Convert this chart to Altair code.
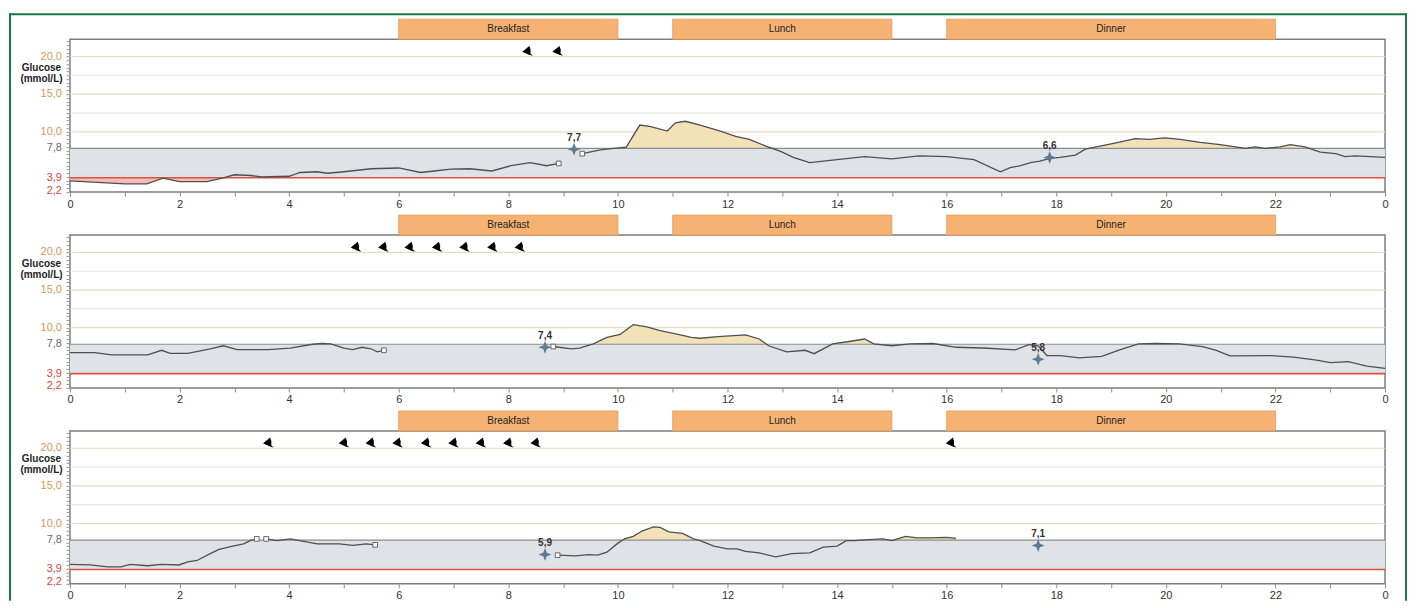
import altair as alt
import pandas as pd

# ---------------- data ----------------
MEAL_NAMES = ["Breakfast", "Lunch", "Dinner"]
MEAL_START = [6, 11, 16]
MEAL_END = [10, 15, 22]

Y_LABEL_VALUES = [20.0, 15.0, 10.0, 7.8, 3.9, 2.2]
Y_LABEL_TEXT = ["20,0", "15,0", "10,0", "7,8", "3,9", "2,2"]
GRID_MAJOR = [10.0, 15.0, 20.0]
GRID_MINOR = [5.0, 12.5, 17.5]
TARGET_LOW = 3.9
TARGET_HIGH = 7.8
INSULIN_LEVEL = 20.75

# Day 1
D1_S1_T = [0.0, 0.5, 1.0, 1.4, 1.7, 2.0, 2.5, 2.8, 3.0, 3.3, 3.5, 4.0, 4.2, 4.5, 4.7, 5.0, 5.5, 6.0,
           6.4, 6.65, 6.95, 7.3, 7.7, 8.05, 8.4, 8.7, 8.92]
D1_S1_G = [3.5, 3.3, 3.1, 3.1, 3.85, 3.4, 3.4, 3.9, 4.3, 4.2, 4.0, 4.1, 4.6, 4.7, 4.5, 4.7, 5.1, 5.2,
           4.6, 4.8, 5.05, 5.1, 4.8, 5.5, 5.9, 5.5, 5.8]
D1_S2_T = [9.35, 9.68, 10.05, 10.15, 10.4, 10.6, 10.9, 11.05, 11.23, 11.5, 11.87, 12.15, 12.4, 12.7,
           12.97, 13.2, 13.5, 14.0, 14.5, 15.0, 15.5, 16.0, 16.5, 16.98, 17.16, 17.35, 17.53, 17.7,
           17.9, 18.07, 18.35, 18.53, 18.8, 19.07, 19.44, 19.7, 19.98, 20.26, 20.63, 20.99, 21.27,
           21.45, 21.63, 21.81, 22.09, 22.27, 22.54, 22.82, 23.1, 23.27, 23.45, 23.73, 24.0]
D1_S2_G = [7.1, 7.6, 7.9, 7.95, 10.9, 10.7, 10.1, 11.2, 11.4, 10.9, 10.1, 9.4, 9.0, 8.1,
           7.4, 6.6, 5.9, 6.3, 6.7, 6.4, 6.8, 6.7, 6.3, 4.7, 5.25, 5.5, 5.9, 6.1,
           6.5, 6.6, 6.9, 7.7, 8.1, 8.5, 9.1, 9.0, 9.2, 9.0, 8.6, 8.3, 8.0,
           7.8, 8.0, 7.8, 8.0, 8.3, 8.0, 7.3, 7.1, 6.7, 6.8, 6.7, 6.6]
D1_METER_T = [9.2, 17.88]
D1_METER_G = [7.7, 6.6]
D1_INSULIN_T = [8.35, 8.9]
D1_GAP_T = [8.92, 9.35]
D1_GAP_G = [5.8, 7.1]

# Day 2
D2_S1_T = [0.0, 0.45, 0.77, 1.42, 1.67, 1.83, 2.15, 2.56, 2.8, 3.05, 3.62, 4.02, 4.43, 4.6, 4.76,
           5.0, 5.16, 5.33, 5.49, 5.61, 5.73]
D2_S1_G = [6.7, 6.7, 6.4, 6.4, 7.0, 6.6, 6.6, 7.2, 7.6, 7.1, 7.1, 7.3, 7.8, 7.9, 7.85,
           7.3, 7.1, 7.4, 7.2, 6.8, 7.0]
D2_S2_T = [8.82, 9.15, 9.3, 9.55, 9.8, 10.04, 10.28, 10.53, 10.77, 11.1, 11.34, 11.5, 11.83, 12.33,
           12.58, 12.75, 13.08, 13.42, 13.58, 13.92, 14.25, 14.5, 14.67, 15.0, 15.33, 15.75, 16.17,
           16.67, 17.25, 17.5, 17.67, 17.83, 18.08, 18.42, 18.83, 19.17, 19.5, 19.83, 20.25, 20.67,
           20.92, 21.17, 21.92, 22.33, 22.75, 23.0, 23.33, 23.67, 24.0]
D2_S2_G = [7.5, 7.2, 7.3, 7.85, 8.7, 9.1, 10.4, 10.1, 9.6, 9.1, 8.7, 8.6, 8.8, 9.05,
           8.5, 7.6, 6.8, 7.0, 6.55, 7.85, 8.2, 8.5, 7.85, 7.6, 7.85, 7.9, 7.4,
           7.3, 7.05, 7.75, 7.6, 6.3, 6.3, 6.0, 6.2, 7.1, 7.85, 7.9, 7.85, 7.5,
           7.0, 6.25, 6.3, 6.1, 5.7, 5.35, 5.5, 4.9, 4.6]
D2_METER_T = [8.67, 17.67]
D2_METER_G = [7.4, 5.8]
D2_INSULIN_T = [5.22, 5.72, 6.2, 6.7, 7.2, 7.71, 8.21]
D2_GAP_T = [5.73, 8.82]
D2_GAP_G = [7.0, 7.5]

# Day 3
D3_S1_T = [0.0, 0.37, 0.69, 0.93, 1.1, 1.42, 1.67, 1.99, 2.15, 2.32, 2.56, 2.72, 2.97, 3.17, 3.29, 3.41]
D3_S1_G = [4.57, 4.5, 4.26, 4.26, 4.57, 4.4, 4.57, 4.5, 4.9, 5.1, 6.0, 6.57, 7.0, 7.3, 7.74, 7.96]
D3_S2_T = [3.58, 3.78, 4.02, 4.19, 4.51, 4.92, 5.16, 5.41, 5.57]
D3_S2_G = [7.96, 7.74, 7.96, 7.74, 7.3, 7.3, 7.1, 7.3, 7.17]
D3_S3_T = [8.9, 9.23, 9.47, 9.63, 9.8, 10.0, 10.12, 10.28, 10.45, 10.65, 10.77, 10.93, 11.18, 11.38,
           11.5, 11.75, 12.0, 12.17, 12.33, 12.58, 12.88, 13.17, 13.5, 13.75, 14.0, 14.17, 14.33,
           14.58, 14.83, 15.0, 15.25, 15.46, 15.67, 16.0, 16.17]
D3_S3_G = [5.8, 5.7, 5.87, 5.8, 6.2, 7.4, 7.96, 8.3, 9.04, 9.57, 9.5, 8.9, 8.7, 7.96,
           7.74, 7.0, 6.65, 6.65, 6.3, 6.1, 5.57, 6.0, 6.1, 6.87, 7.0, 7.74, 7.74,
           7.87, 7.96, 7.74, 8.3, 8.1, 8.1, 8.17, 8.04]
D3_METER_T = [8.67, 17.67]
D3_METER_G = [5.9, 7.1]
D3_INSULIN_T = [3.62, 5.0, 5.49, 5.98, 6.5, 7.0, 7.5, 8.0, 8.5, 16.08]
D3_GAP_T = [3.41, 3.58, 5.57, 8.9]
D3_GAP_G = [7.96, 7.96, 7.17, 5.8]

# ---------------- chart ----------------
W = 1316
H = 153
GAP = 43                      # distance between plot areas
GREEN = "#1b7a43"
STAR = "M0,-1L0.27,-0.27L1,0L0.27,0.27L0,1L-0.27,0.27L-1,0L-0.27,-0.27Z"
PEN = "M-1,0.15L0.35,-0.95L0.6,-0.2L0.55,0.45L1,0.95L0.3,0.75Z"

XS = alt.Scale(domain=[0, 24], nice=False, zero=False)
YS = alt.Scale(domain=[2.0, 22.3], nice=False, zero=False)

XAXIS = alt.Axis(values=list(range(25)),
                 labelExpr="datum.value % 2 == 0 ? '' + (datum.value % 24) : ''",
                 tickSize=4, tickColor="#8a8a8a", labelFontSize=11, labelColor="#333333",
                 labelPadding=2, domain=False, grid=False, title=None, labelFlush=False)
YAXIS = alt.Axis(values=[2.0 + 0.5 * i for i in range(41)], labels=False, tickSize=4,
                 tickColor="#9a9a9a", domain=False, grid=False,
                 title=["Glucose", "(mmol/L)"], titleAngle=0, titleX=-29, titleY=23,
                 titleAlign="center", titleBaseline="top", titleFontSize=10,
                 titleFontWeight="bold", titleColor="#222222", titleLineHeight=11)

meals_df = pd.DataFrame({"name": MEAL_NAMES, "s": MEAL_START, "e": MEAL_END})
ylab_df = pd.DataFrame({"v": Y_LABEL_VALUES, "txt": Y_LABEL_TEXT})


def X(field):
    return alt.X(field, scale=XS, axis=XAXIS)


def Y(field):
    return alt.Y(field, scale=YS, axis=YAXIS)


def comma(v):
    return f"{v:.1f}".replace(".", ",")


def make_panel(segs, meter_t, meter_g, ins_t, gap_t, gap_g, first=False):
    rows = []
    for i, (ts, gs) in enumerate(segs):
        for t, g in zip(ts, gs):
            rows.append({"t": t, "g": g, "seg": i})
    line_df = pd.DataFrame(rows)
    line_df["hi"] = line_df["g"].clip(lower=TARGET_HIGH)
    line_df["lo"] = line_df["g"].clip(upper=TARGET_LOW)
    line_df["hb"] = TARGET_HIGH
    line_df["lb"] = TARGET_LOW

    meter_df = pd.DataFrame({"t": meter_t, "g": meter_g, "lab": [comma(v) for v in meter_g]})
    ins_df = pd.DataFrame({"t": ins_t, "g": [INSULIN_LEVEL] * len(ins_t)})
    gap_df = pd.DataFrame({"t": gap_t, "g": gap_g})

    one = alt.Data(values=[{"z": 0}])

    band = alt.Chart(alt.Data(values=[{"a": TARGET_LOW, "b": TARGET_HIGH}])).mark_rect(
        color="#dfe3e7").encode(
        x=alt.value(0), x2=alt.value(W), y=Y("a:Q"), y2="b:Q")

    grid_major = alt.Chart(pd.DataFrame({"v": GRID_MAJOR})).mark_rule(
        color="#e9dcc0", strokeWidth=1.2).encode(y=Y("v:Q"))
    grid_minor = alt.Chart(pd.DataFrame({"v": GRID_MINOR})).mark_rule(
        color="#e4e4e4", strokeWidth=1).encode(y=Y("v:Q"))

    area_hi = alt.Chart(line_df).mark_area(color="#f3e2b8", opacity=1).encode(
        x=X("t:Q"), y=Y("hi:Q"), y2="hb:Q", detail="seg:N")
    area_lo = alt.Chart(line_df).mark_area(color="#f4bdb8", opacity=1).encode(
        x=X("t:Q"), y=Y("lo:Q"), y2="lb:Q", detail="seg:N")

    high_rule = alt.Chart(pd.DataFrame({"v": [TARGET_HIGH]})).mark_rule(
        color="#8c8c8c", strokeWidth=1.2).encode(y=Y("v:Q"))
    low_rule = alt.Chart(pd.DataFrame({"v": [TARGET_LOW]})).mark_rule(
        color="#e0503c", strokeWidth=1.6).encode(y=Y("v:Q"))

    line = alt.Chart(line_df).mark_line(color="#4f4f4f", strokeWidth=1.3).encode(
        x=X("t:Q"), y=Y("g:Q"), detail="seg:N")

    gaps = alt.Chart(gap_df).mark_point(shape="square", filled=True, fill="white",
                                        stroke="#666666", strokeWidth=1, size=22,
                                        opacity=1).encode(x=X("t:Q"), y=Y("g:Q"))

    meters = alt.Chart(meter_df).mark_point(shape=STAR, filled=True, color="#5c7a94",
                                            size=170, opacity=1).encode(x=X("t:Q"), y=Y("g:Q"))
    meter_txt = alt.Chart(meter_df).mark_text(dy=-11, fontSize=10, fontWeight="bold",
                                              color="#333333").encode(
        x=X("t:Q"), y=Y("g:Q"), text="lab:N")

    insulin = alt.Chart(ins_df).mark_point(shape=PEN, filled=True, color="black",
                                           size=110, opacity=1).encode(x=X("t:Q"), y=Y("g:Q"))

    meal_rect = alt.Chart(meals_df).mark_rect(fill="#f6b273", stroke="#e59b57",
                                              strokeWidth=0.8).encode(
        x=X("s:Q"), x2="e:Q", y=alt.value(-20), y2=alt.value(0))
    meal_txt = alt.Chart(meals_df).transform_calculate(m="(datum.s + datum.e) / 2").mark_text(
        fontSize=10, color="#222222", baseline="middle").encode(
        x=X("m:Q"), y=alt.value(-10), text="name:N")

    ylabels = alt.Chart(ylab_df).transform_calculate(
        cls="datum.v >= 10 ? 'hi' : (datum.v > 5 ? 'mid' : 'lo')").mark_text(
        align="right", baseline="middle", fontSize=11).encode(
        x=alt.value(-8), y=Y("v:Q"), text="txt:N",
        color=alt.Color("cls:N", scale=alt.Scale(domain=["hi", "mid", "lo"],
                                                 range=["#d49a55", "#6a6a6a", "#d8463a"]),
                        legend=None))

    layers = [band, grid_minor, grid_major, area_hi, area_lo, high_rule, low_rule, line,
              gaps, meters, meter_txt, insulin, meal_rect, meal_txt, ylabels]
    if first:
        top = -26
        bottom = 2 * (H + GAP) + H + 17
        left_bar = alt.Chart(one).mark_rect(color=GREEN).encode(
            x=alt.value(-61), x2=alt.value(-59), y=alt.value(top), y2=alt.value(bottom))
        right_bar = alt.Chart(one).mark_rect(color=GREEN).encode(
            x=alt.value(W + 20), x2=alt.value(W + 22), y=alt.value(top), y2=alt.value(bottom))
        top_bar = alt.Chart(one).mark_rect(color=GREEN).encode(
            x=alt.value(-61), x2=alt.value(W + 22), y=alt.value(top), y2=alt.value(top + 2))
        layers += [left_bar, right_bar, top_bar]
    return alt.layer(*layers).properties(width=W, height=H)


p1 = make_panel([(D1_S1_T, D1_S1_G), (D1_S2_T, D1_S2_G)], D1_METER_T, D1_METER_G,
                D1_INSULIN_T, D1_GAP_T, D1_GAP_G, first=True)
p2 = make_panel([(D2_S1_T, D2_S1_G), (D2_S2_T, D2_S2_G)], D2_METER_T, D2_METER_G,
                D2_INSULIN_T, D2_GAP_T, D2_GAP_G)
p3 = make_panel([(D3_S1_T, D3_S1_G), (D3_S2_T, D3_S2_G), (D3_S3_T, D3_S3_G)], D3_METER_T,
                D3_METER_G, D3_INSULIN_T, D3_GAP_T, D3_GAP_G)

chart = alt.vconcat(p1, p2, p3, spacing=GAP, bounds="flush").properties(
    padding={"left": 0, "top": 4, "right": 0, "bottom": 0}
).configure(font="Liberation Sans").configure_view(stroke="#7d7d7d", strokeWidth=1.5)

chart.save("out.html", embed_options={"renderer": "svg", "actions": False})
